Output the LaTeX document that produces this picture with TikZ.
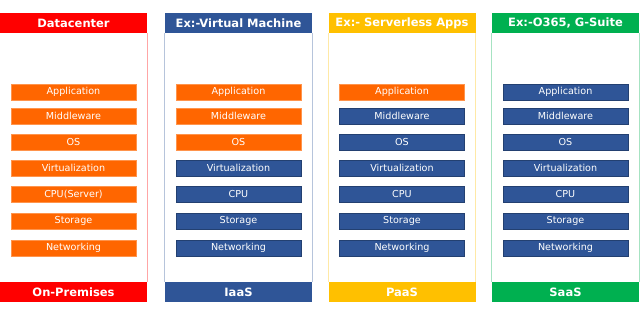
\documentclass[tikz,border=0pt]{standalone}
\usepackage{fontspec}
\setmainfont{DejaVu Sans}
\usepackage{tikz}

\definecolor{onprem}{HTML}{FF0000}
\definecolor{iaas}{HTML}{2F5597}
\definecolor{paas}{HTML}{FFC000}
\definecolor{saas}{HTML}{00B050}
\definecolor{custfill}{HTML}{FF6600}
\definecolor{vendfill}{HTML}{2F5597}

\tikzset{
  band/.style={minimum width=147pt, minimum height=20pt, inner sep=0pt,
    text=white, font=\bfseries\fontsize{11.5}{12}\selectfont},
  layer/.style={minimum width=125pt, minimum height=16pt, inner sep=0pt,
    text=white, line width=0.8pt, font=\fontsize{9.6}{11}\selectfont},
  cust/.style={fill=custfill, draw=custfill!70!white},
  vend/.style={fill=vendfill, draw=vendfill!75!black},
}

\begin{document}
\begin{tikzpicture}[x=1pt,y=-1pt]
  \useasboundingbox (0,0) rectangle (640,308);
  \foreach \col/\cx/\head/\foot/\hc/\n/\cpu in {
      dc/73.5/Datacenter/On-Premises/onprem/7/CPU(Server),
      vm/238.5/Ex:-Virtual Machine/IaaS/iaas/3/CPU,
      sl/402/Ex:- Serverless Apps/PaaS/paas/1/CPU,
      sw/565.5/{Ex:-O365, G-Suite}/SaaS/saas/0/CPU}{
    \node[band, fill=\hc] (\col-head) at (\cx,23) {\head};
    \node[band, fill=\hc] (\col-foot) at (\cx,292) {\foot};
    \draw[\hc!35, line width=0.8pt] (\col-head.south west) -- (\col-foot.north west);
    \draw[\hc!35, line width=0.8pt] (\col-head.south east) -- (\col-foot.north east);
    % layers, top to bottom
    \foreach \lab/\ly [count=\i] in {Application/92, Middleware/116, OS/142,
        Virtualization/168, \cpu/194, Storage/221, Networking/248}{
      \ifnum\i>\n \def\kind{vend}\else \def\kind{cust}\fi
      \node[layer, \kind] (\col-\i) at (\cx,\ly) {\lab};
    }
  }
\end{tikzpicture}
\end{document}
